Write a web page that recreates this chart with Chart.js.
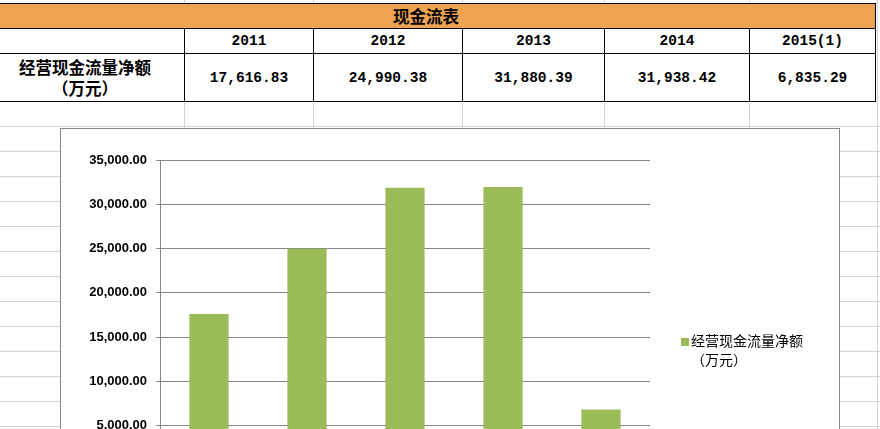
<!DOCTYPE html>
<html>
<head>
<meta charset="utf-8">
<script src="https://cdn.jsdelivr.net/npm/chart.js@4.4.1/dist/chart.umd.min.js"></script>
<style>
html,body{margin:0;padding:0;width:880px;height:429px;overflow:hidden;background:#fff;}
.gl{position:absolute;background:#d4d4d4;}
.bl{position:absolute;background:#000;}
.cell{position:absolute;display:flex;align-items:center;justify-content:center;color:#000;white-space:nowrap;}
.cjk{font-family:"Noto Sans CJK SC",sans-serif;font-weight:bold;font-size:16.5px;line-height:21px;text-align:center;}
.num{font-family:"Liberation Mono",monospace;font-weight:bold;font-size:14.5px;}
#frame{position:absolute;left:60px;top:128px;width:778px;height:420px;border:1px solid #868686;background:#fff;}
</style>
</head>
<body>
<div id="sheet"></div>
<div id="frame"><canvas id="c" width="778" height="420"></canvas></div>
<script>
// ---- data ----
const tableTitle = '现金流表';
const categories = ['2011', '2012', '2013', '2014', '2015(1)'];
const cashFlow = [17616.83, 24990.38, 31880.39, 31938.42, 6835.29];
const seriesNameLines = ['经营现金流量净额', '（万元）'];
const yMin = 0, yMax = 35000, yStep = 5000;

const fmt = v => v.toLocaleString('en-US', {minimumFractionDigits: 2, maximumFractionDigits: 2});

// ---- spreadsheet background + table ----
const sheet = document.getElementById('sheet');
function add(cls, l, t, w, h, html, extra) {
  const d = document.createElement('div');
  d.className = cls;
  d.style.left = l + 'px'; d.style.top = t + 'px';
  d.style.width = w + 'px'; d.style.height = h + 'px';
  if (html !== undefined) d.innerHTML = html;
  if (extra) Object.assign(d.style, extra);
  sheet.appendChild(d);
  return d;
}
// sheet gridlines
for (let y = 126; y < 429; y += 25) add('gl', 0, y, 880, 1);
[184, 313, 462, 604, 749, 877].forEach(x => add('gl', x, 0, 1, 429));
// table white background
add('cell', 0, 3, 876, 98, '', {background: '#fff'});
// header band
add('cell', 0, 4, 875, 24, '', {background: '#EEA353'});
const colEdges = [0, 184, 313, 462, 604, 749, 875];
// lines
[3, 28, 53, 101].forEach(y => add('bl', 0, y, 876, 1));
colEdges.slice(1, -1).forEach(x => add('bl', x, 28, 1, 74));
add('bl', 875, 3, 1, 99);
// title
add('cell cjk', 380, 4, 92, 24, tableTitle);
// row label
add('cell cjk', 20, 54, 130, 47, seriesNameLines.join('<br>'), {flexDirection: 'column'});
// years + values
categories.forEach((c, i) => {
  const l = colEdges[i + 1] + 1, w = colEdges[i + 2] - colEdges[i + 1] - 1;
  add('cell num', l, 29, w, 24, c);
  add('cell num', l, 54, w, 47, fmt(cashFlow[i]));
});

// ---- chart ----
const legendPlugin = {
  id: 'sideLegend',
  afterDraw(chart) {
    const ctx = chart.ctx;
    ctx.save();
    ctx.fillStyle = '#9BBB59';
    ctx.fillRect(620, 209, 8, 8);
    ctx.fillStyle = '#000';
    ctx.font = '14px "Noto Sans CJK SC"';
    ctx.textBaseline = 'middle';
    ctx.textAlign = 'left';
    ctx.fillText(seriesNameLines[0], 630, 212);
    ctx.fillText(seriesNameLines[1], 630, 231);
    ctx.restore();
  }
};

new Chart(document.getElementById('c'), {
  type: 'bar',
  data: {
    labels: categories,
    datasets: [{
      label: seriesNameLines.join(''),
      data: cashFlow,
      backgroundColor: '#9BBB59',
      borderWidth: 0,
      barPercentage: 0.4,
      categoryPercentage: 1.0
    }]
  },
  options: {
    responsive: false,
    devicePixelRatio: 1,
    animation: false,
    layout: {padding: {left: 0, top: 31, right: 189, bottom: 49}},
    plugins: {legend: {display: false}, tooltip: {enabled: false}},
    scales: {
      x: {
        grid: {display: false},
        border: {display: true, color: '#868686'},
        ticks: {color: '#000', font: {family: 'Liberation Sans', size: 13, weight: 'bold'}},
        afterFit(s) { s.height = 30; }
      },
      y: {
        min: yMin, max: yMax,
        ticks: {
          stepSize: yStep,
          padding: 9,
          color: '#000',
          font: {family: 'Liberation Sans', size: 13, weight: 'bold'},
          callback: v => fmt(v)
        },
        grid: {color: '#868686', lineWidth: 1, tickLength: 4, drawTicks: true},
        border: {display: true, color: '#868686'},
        afterFit(s) { s.width = 99; }
      }
    }
  },
  plugins: [legendPlugin]
});
</script>
</body>
</html>
